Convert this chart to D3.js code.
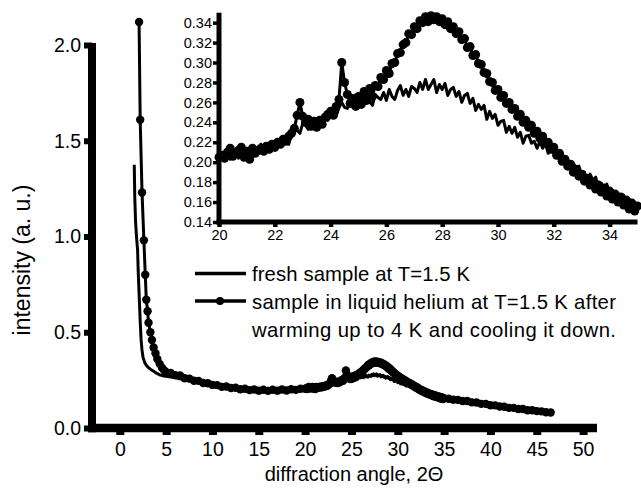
<!DOCTYPE html>
<html><head><meta charset="utf-8">
<script src="https://cdn.jsdelivr.net/npm/d3@7"></script>
<style>
html,body{margin:0;padding:0;background:#fff;}
svg{display:block;font-family:"Liberation Sans",Arial,sans-serif;}
</style></head>
<body>
<svg id="chart" width="641" height="491"></svg>
<script>
// ---------- data ----------
const seriesNames = ["fresh sample at T=1.5 K", "sample in liquid helium at T=1.5 K after", "warming up to 4 K and cooling it down."];
const mainXTicks = [0, 5, 10, 15, 20, 25, 30, 35, 40, 45, 50];
const mainYTicks = [0.0, 0.5, 1.0, 1.5, 2.0];
const insetXTicks = [20, 22, 24, 26, 28, 30, 32, 34];
const insetYTicks = [0.14, 0.16, 0.18, 0.20, 0.22, 0.24, 0.26, 0.28, 0.30, 0.32, 0.34];

// low-angle part (2Θ < 20)
const freshLowAngles = [1.56,1.62,1.7,1.8,1.92,2.0,2.1,2.2,2.3,2.39,2.5,2.7,2.86,3.1,3.3,3.7,4.0,4.37,4.7,5,5.5,6,6.5,7,7.5,8,8.5,9,9.5,10,10.5,11,11.5,12,12.5,13,13.5,14,14.5,15,15.5,16,16.5,17,17.5,18,18.5,19,19.5];
const freshLowValues = [1.375,1.2,1.08,1.0,0.93,0.8,0.68,0.56,0.46,0.41,0.37,0.34,0.328,0.315,0.307,0.295,0.285,0.276,0.272,0.27,0.266,0.262,0.257,0.252,0.247,0.243,0.238,0.233,0.229,0.224,0.22,0.216,0.213,0.21,0.206,0.203,0.201,0.199,0.197,0.196,0.196,0.195,0.196,0.196,0.197,0.197,0.199,0.2,0.201];
const heliumLowAngles = [2.08,2.2,2.4,2.6,2.75,2.86,3.0,3.1,3.3,3.47,3.65,3.85,4.05,4.3,4.55,4.8,5.0,5.5,6,6.5,7,7.5,8,8.5,9,9.5,10,10.5,11,11.5,12,12.5,13,13.5,14,14.5,15,15.5,16,16.5,17,17.5,18,18.5,19,19.5];
const heliumLowValues = [2.12,1.61,1.23,0.98,0.80,0.67,0.61,0.55,0.50,0.46,0.42,0.39,0.36,0.335,0.315,0.30,0.292,0.287,0.276,0.274,0.26,0.258,0.247,0.246,0.235,0.234,0.225,0.224,0.215,0.217,0.209,0.21,0.202,0.205,0.198,0.201,0.195,0.2,0.194,0.2,0.195,0.201,0.196,0.202,0.199,0.205];

// 2Θ = 20.0 ... 35.0 in steps of 0.1 (inset range)
const midAngles = d3.range(200, 351).map(i => i / 10);
const freshMidValues = [
0.205,0.209,0.204,0.212,0.203,0.209,0.212,0.204,0.211,0.209,
0.214,0.205,0.214,0.212,0.209,0.218,0.212,0.210,0.219,0.216,
0.212,0.222,0.218,0.217,0.226,0.218,0.229,0.234,0.232,0.229,
0.239,0.237,0.233,0.242,0.236,0.241,0.235,0.243,0.249,0.242,
0.246,0.253,0.246,0.255,0.260,0.255,0.254,0.261,0.259,0.265,
0.255,0.263,0.258,0.269,0.261,0.257,0.268,0.265,0.263,0.270,
0.262,0.273,0.266,0.263,0.272,0.277,0.267,0.273,0.266,0.276,
0.274,0.270,0.280,0.273,0.283,0.273,0.278,0.283,0.270,0.278,
0.273,0.279,0.267,0.273,0.275,0.266,0.271,0.260,0.267,0.269,
0.259,0.264,0.252,0.258,0.253,0.257,0.243,0.251,0.244,0.248,
0.237,0.241,0.242,0.230,0.236,0.229,0.235,0.225,0.230,0.219,
0.226,0.227,0.219,0.221,0.214,0.221,0.214,0.219,0.209,0.214,
0.209,0.211,0.202,0.209,0.200,0.202,0.193,0.199,0.194,0.196,
0.187,0.190,0.181,0.188,0.182,0.185,0.175,0.179,0.172,0.178,
0.169,0.172,0.163,0.168,0.164,0.167,0.157,0.163,0.152,0.159,
0.152];
const heliumMidValues = [
0.205,0.207,0.204,0.210,0.214,0.206,0.209,0.212,0.215,0.205,
0.211,0.203,0.214,0.209,0.212,0.214,0.211,0.216,0.213,0.218,
0.215,0.220,0.218,0.223,0.221,0.226,0.229,0.234,0.247,0.260,
0.246,0.240,0.243,0.236,0.241,0.235,0.242,0.238,0.245,0.248,
0.251,0.247,0.256,0.263,0.300,0.280,0.268,0.259,0.264,0.256,
0.266,0.258,0.271,0.262,0.274,0.266,0.277,0.276,0.285,0.283,
0.292,0.289,0.299,0.300,0.309,0.310,0.318,0.320,0.329,0.328,
0.336,0.334,0.342,0.340,0.346,0.341,0.347,0.343,0.346,0.341,
0.344,0.338,0.341,0.334,0.336,0.329,0.331,0.323,0.324,0.315,
0.316,0.307,0.308,0.299,0.298,0.290,0.289,0.281,0.280,0.272,
0.273,0.265,0.267,0.259,0.260,0.253,0.254,0.246,0.248,0.240,
0.242,0.235,0.237,0.229,0.231,0.224,0.226,0.219,0.220,0.213,
0.215,0.207,0.209,0.201,0.203,0.196,0.198,0.190,0.193,0.186,
0.188,0.181,0.184,0.177,0.180,0.173,0.177,0.170,0.174,0.166,
0.171,0.163,0.168,0.160,0.165,0.157,0.162,0.153,0.159,0.151,
0.156];

// high-angle tail (2Θ > 35)
const tailAngles = [35.5,36,36.5,37,37.5,38,38.5,39,39.5,40,40.5,41,41.5,42,42.5,43,43.5,44,44.5,45,45.5,46,46.5];
const freshTailValues = [0.149,0.147,0.143,0.14,0.137,0.133,0.13,0.126,0.123,0.119,0.116,0.112,0.109,0.106,0.103,0.1,0.097,0.094,0.091,0.088,0.085,0.082,0.079];
const heliumTailValues = [0.153,0.148,0.147,0.141,0.141,0.134,0.133,0.126,0.126,0.119,0.118,0.112,0.111,0.105,0.105,0.099,0.099,0.093,0.093,0.088,0.087,0.082,0.081];

// ---------- build series ----------
const zip = (xs, ys) => xs.map((x, i) => ({x, y: ys[i]}));
const fresh = [].concat(zip(freshLowAngles, freshLowValues), zip(midAngles, freshMidValues), zip(tailAngles, freshTailValues));
const helium = [].concat(zip(heliumLowAngles, heliumLowValues), zip(midAngles, heliumMidValues), zip(tailAngles, heliumTailValues));

const svg = d3.select("#chart");
const FONT = '"Liberation Sans", Arial, sans-serif';

// ---------- main chart ----------
const x = d3.scaleLinear().domain([-3, 51.5]).range([92, 597]);
const y = d3.scaleLinear().domain([0, 2]).range([428, 45]);

const line = (xs, ys) => d3.line().x(d => xs(d.x)).y(d => ys(d.y));

const main = svg.append("g");
main.append("path").datum(fresh).attr("d", line(x, y)).attr("fill", "none").attr("stroke", "#000").attr("stroke-width", 3).attr("stroke-linejoin", "round");
main.append("path").datum(helium).attr("d", line(x, y)).attr("fill", "none").attr("stroke", "#000").attr("stroke-width", 3).attr("stroke-linejoin", "round");
main.append("g").selectAll("circle").data(helium).join("circle")
  .attr("cx", d => x(d.x)).attr("cy", d => y(d.y)).attr("r", 4.2).attr("fill", "#000");

// axes
const yAx = main.append("g").attr("transform", `translate(${x(-3)},0)`)
  .call(d3.axisLeft(y).tickValues(mainYTicks).tickFormat(d3.format(".1f")).tickSize(8).tickPadding(3));
const xAx = main.append("g").attr("transform", `translate(0,${y(0)})`)
  .call(d3.axisBottom(x).tickValues(mainXTicks).tickFormat(d3.format("d")).tickSize(7).tickPadding(7));
yAx.select(".domain").remove(); xAx.select(".domain").remove();
yAx.selectAll(".tick line").attr("stroke", "#000").attr("stroke-width", 6);
xAx.selectAll(".tick line").attr("stroke", "#000").attr("stroke-width", 8);
[yAx, xAx].forEach(g => g.selectAll("text").attr("fill", "#000").style("font-size", "19.5px").style("font-family", FONT));
main.append("line").attr("x1", x(-3)).attr("x2", x(-3)).attr("y1", y(2) - 2).attr("y2", y(0) + 4.3).attr("stroke", "#000").attr("stroke-width", 8);
main.append("line").attr("x1", x(-3) - 4).attr("x2", x(51.5)).attr("y1", y(0)).attr("y2", y(0)).attr("stroke", "#000").attr("stroke-width", 8.5);

main.append("text").attr("x", 354).attr("y", 481).attr("text-anchor", "middle")
  .style("font-size", "20px").style("font-family", FONT).text("diffraction angle, 2\u0398");
main.append("text").attr("transform", "translate(30,260) rotate(-90)").attr("text-anchor", "middle")
  .style("font-size", "23px").style("font-family", FONT).text("intensity (a. u.)");

// legend
const leg = svg.append("g");
leg.append("line").attr("x1", 195).attr("x2", 246).attr("y1", 273.5).attr("y2", 273.5).attr("stroke", "#000").attr("stroke-width", 3.4);
leg.append("line").attr("x1", 195).attr("x2", 246).attr("y1", 301).attr("y2", 301).attr("stroke", "#000").attr("stroke-width", 3.4);
leg.append("circle").attr("cx", 220).attr("cy", 301).attr("r", 4).attr("fill", "#000");
const legY = [280.5, 308.5, 337];
const legLen = [218, 364, 364];
seriesNames.forEach((t, i) => leg.append("text").attr("x", 252).attr("y", legY[i])
  .attr("textLength", legLen[i]).attr("lengthAdjust", "spacing")
  .style("font-size", "20.3px").style("font-family", FONT).text(t));

// ---------- inset ----------
const xi = d3.scaleLinear().domain([20, 35]).range([219, 637.5]);
const yi = d3.scaleLinear().domain([0.14, 0.35]).range([222, 12.7]);
const inFresh = fresh.filter(d => d.x >= 20 && d.x <= 35);
const inHelium = helium.filter(d => d.x >= 20 && d.x <= 35);
const inset = svg.append("g");
inset.append("path").datum(inFresh).attr("d", line(xi, yi)).attr("fill", "none").attr("stroke", "#000").attr("stroke-width", 3).attr("stroke-linejoin", "round");
inset.append("path").datum(inHelium).attr("d", line(xi, yi)).attr("fill", "none").attr("stroke", "#000").attr("stroke-width", 3).attr("stroke-linejoin", "round");
inset.append("g").selectAll("circle").data(inHelium).join("circle")
  .attr("cx", d => xi(d.x)).attr("cy", d => yi(d.y)).attr("r", 4.5).attr("fill", "#000");

const yiAx = inset.append("g").attr("transform", `translate(${xi(20)},0)`)
  .call(d3.axisLeft(yi).tickValues(insetYTicks).tickFormat(d3.format(".2f")).tickSize(6).tickPadding(1));
const xiAx = inset.append("g").attr("transform", `translate(0,${yi(0.14)})`)
  .call(d3.axisBottom(xi).tickValues(insetXTicks).tickFormat(d3.format("d")).tickSize(5).tickPadding(2.5));
yiAx.select(".domain").remove(); xiAx.select(".domain").remove();
yiAx.selectAll(".tick line").attr("stroke", "#000").attr("stroke-width", 3.5);
xiAx.selectAll(".tick line").attr("stroke", "#000").attr("stroke-width", 4.5);
[yiAx, xiAx].forEach(g => g.selectAll("text").attr("fill", "#000").style("font-size", "14.5px").style("font-family", FONT));
inset.append("line").attr("x1", xi(20)).attr("x2", xi(20)).attr("y1", yi(0.35)).attr("y2", yi(0.14) + 2.5).attr("stroke", "#000").attr("stroke-width", 5);
inset.append("line").attr("x1", xi(20) - 2.5).attr("x2", xi(35)).attr("y1", yi(0.14)).attr("y2", yi(0.14)).attr("stroke", "#000").attr("stroke-width", 5);
</script>
</body></html>
